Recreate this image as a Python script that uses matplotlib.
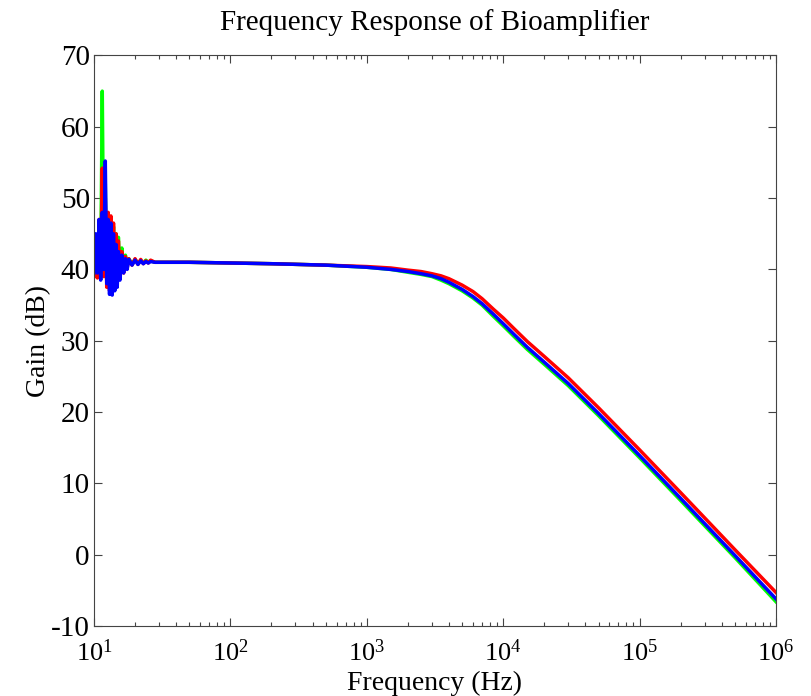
import numpy as np
import matplotlib
matplotlib.use('Agg')
import matplotlib.pyplot as plt
from matplotlib.ticker import LogLocator, NullFormatter

plt.rcParams['font.family'] = 'Liberation Serif'
plt.rcParams['mathtext.fontset'] = 'custom'
plt.rcParams['mathtext.rm'] = 'Liberation Serif'
plt.rcParams['mathtext.it'] = 'Liberation Serif'
plt.rcParams['axes.unicode_minus'] = False

# noisy low-frequency part (Hz), shared by the three traces
f_noise = [10.0, 10.3, 10.6, 10.9, 11.2, 11.5, 11.8, 12.1, 12.4, 12.7,
           13.0, 13.3, 13.6, 13.9, 14.2, 14.5, 14.8, 15.1, 15.5, 16.0,
           16.5, 17.0, 17.5, 18.0, 19.0, 20.0, 21.0, 22.0, 23.0, 24.0,
           25.0, 26.0, 28.0]
green_noise = [40.5, 44.0, 39.5, 45.5, 40.0, 65.0, 39.0, 52.0, 38.5, 47.0,
               39.0, 46.5, 38.5, 46.0, 38.0, 45.0, 39.0, 44.5, 39.5, 43.0,
               40.0, 42.0, 40.5, 41.5, 40.8, 41.4, 40.9, 41.2, 40.9, 41.3,
               41.0, 41.2, 41.0]
red_noise = [39.0, 44.5, 38.8, 47.0, 40.0, 54.2, 39.0, 50.0, 37.5, 48.0,
             37.0, 47.5, 37.5, 46.5, 38.0, 45.0, 38.5, 44.0, 39.0, 42.5,
             39.5, 41.8, 40.2, 41.5, 40.6, 41.5, 40.7, 41.4, 40.8, 41.2,
             40.9, 41.3, 41.0]
blue_noise = [39.5, 45.0, 39.5, 47.0, 38.5, 48.0, 40.0, 55.2, 38.0, 47.0,
              36.5, 46.5, 36.4, 45.0, 37.0, 43.5, 37.5, 42.5, 38.5, 42.0,
              39.5, 41.5, 40.0, 41.4, 40.6, 41.3, 40.7, 41.2, 40.8, 41.1,
              40.9, 41.1, 41.0]

# smooth part
f_smooth = [30, 50, 100, 200, 500, 1000, 1500, 2000, 2500, 3000, 3500, 4000,
            5000, 6000, 7000, 8500, 10000, 12000, 15000, 20000, 30000, 50000,
            100000, 200000, 500000, 1000000]
green_smooth = [41.0, 41.0, 40.9, 40.8, 40.6, 40.3, 40.0, 39.6, 39.3, 39.0,
                38.5, 38.0, 37.0, 36.0, 35.0, 33.4, 32.1, 30.6, 28.8, 26.7,
                23.7, 19.5, 13.6, 7.6, -0.4, -6.6]
red_smooth = [41.0, 41.0, 40.9, 40.8, 40.6, 40.4, 40.2, 39.9, 39.7, 39.4,
              39.1, 38.7, 37.8, 36.9, 35.9, 34.4, 33.2, 31.7, 29.9, 27.8,
              24.8, 20.6, 14.7, 8.7, 0.7, -5.3]
blue_smooth = [41.0, 41.0, 40.9, 40.8, 40.6, 40.3, 40.0, 39.7, 39.4, 39.1,
               38.7, 38.2, 37.2, 36.2, 35.2, 33.7, 32.4, 30.9, 29.1, 27.0,
               24.0, 19.8, 13.9, 7.9, -0.1, -6.2]

fig = plt.figure(figsize=(8.11, 6.96), dpi=100)
ax = fig.add_axes([0.1159, 0.1006, 0.8409, 0.8197])

ax.semilogx(f_noise + f_smooth, green_noise + green_smooth, color='#00ff00', lw=2.5)
ax.semilogx(f_noise + f_smooth, red_noise + red_smooth, color='#ff0000', lw=2.5)
ax.semilogx(f_noise + f_smooth, blue_noise + blue_smooth, color='#0000ff', lw=2.5)

ax.set_xlim(10, 1e6)
ax.set_ylim(-10, 70)
ax.set_yticks(np.arange(-10, 71, 10))
ax.xaxis.set_major_locator(LogLocator(base=10, numticks=10))
ax.xaxis.set_minor_locator(LogLocator(base=10, subs=np.arange(2, 10), numticks=20))
ax.xaxis.set_minor_formatter(NullFormatter())

ax.tick_params(which='both', direction='in', top=True, right=True, color='#444444')
ax.tick_params(which='major', length=6, width=0.8)
ax.tick_params(which='minor', length=3, width=0.8)
ax.tick_params(axis='y', labelsize=21, pad=3)
ax.tick_params(axis='x', labelsize=19, pad=10)
for s in ax.spines.values():
    s.set_color('#444444')
    s.set_linewidth(0.8)

ax.set_title('Frequency Response of Bioamplifier', fontsize=21, pad=18)
ax.set_xlabel('Frequency (Hz)', fontsize=20, labelpad=3)
ax.set_ylabel('Gain (dB)', fontsize=20, labelpad=0)

fig.savefig('out.png', dpi=100)
